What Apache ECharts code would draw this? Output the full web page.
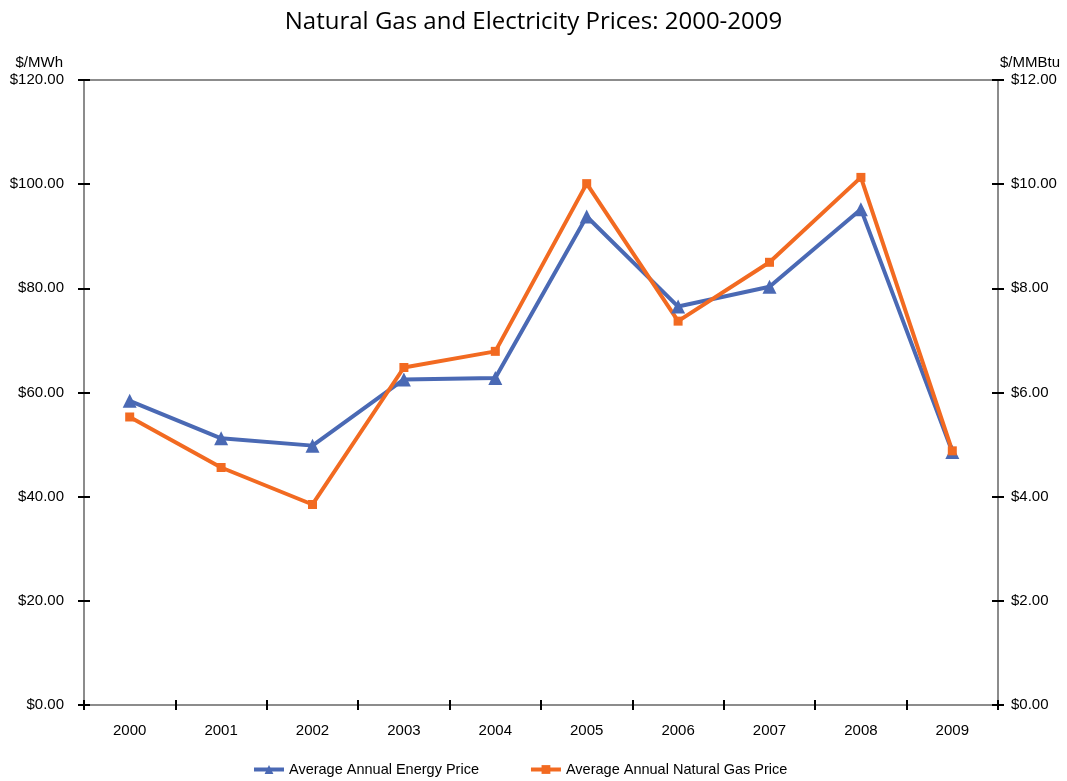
<!DOCTYPE html>
<html>
<head>
<meta charset="utf-8">
<script src="https://cdn.jsdelivr.net/npm/echarts@6/dist/echarts.min.js"></script>
<style>
  html, body { margin: 0; padding: 0; background: #fff; }
  #chart { width: 1067px; height: 781px; }
</style>
</head>
<body>
<div id="chart"></div>
<script>
// years on the category axis
const years = ['2000', '2001', '2002', '2003', '2004', '2005', '2006', '2007', '2008', '2009'];
// electricity, $/MWh (left axis)
const energyPrice = [58.4, 51.2, 49.8, 62.5, 62.8, 93.8, 76.5, 80.3, 95.2, 48.6];
// natural gas, $/MMBtu (right axis)
const gasPrice = [5.53, 4.56, 3.85, 6.48, 6.79, 10.01, 7.37, 8.50, 10.13, 4.88];

const chart = echarts.init(document.getElementById('chart'));

const labelFont = { color: '#000', fontFamily: 'Liberation Sans, Arial, sans-serif', fontSize: 15 };
const axisGray = '#8c8c8c';
const blue = '#4a69b4';
const orange = '#f26a21';

chart.setOption({
    animation: false,
    title: {
        text: 'Natural Gas and Electricity Prices: 2000-2009',
        left: 'center',
        top: 5,
        textStyle: { fontFamily: 'Open Sans, Noto Sans, sans-serif', fontWeight: 'normal', fontSize: 24, color: '#000' }
    },
    legend: {
        top: 762,
        left: 252,
        padding: 0,
        itemGap: 50,
        itemWidth: 30,
        itemHeight: 11,
        textStyle: { ...labelFont, fontSize: 14.5 },
        data: [
            { name: 'Average Annual Energy Price', lineStyle: { width: 4 } },
            { name: 'Average Annual Natural Gas Price', lineStyle: { width: 4 } }
        ]
    },
    grid: {
        left: 84, right: 69, top: 80, bottom: 76,
        show: true, borderColor: axisGray, borderWidth: 2
    },
    xAxis: [{
        type: 'category',
        data: years,
        boundaryGap: true,
        axisLine: { lineStyle: { color: axisGray, width: 2 } },
        axisTick: { show: true, length: 5, lineStyle: { color: '#000', width: 2 } },
        axisLabel: { ...labelFont, margin: 18 }
    }, {
        // inner half of the crossing ticks
        type: 'category',
        data: years,
        position: 'bottom',
        axisLine: { show: false },
        axisTick: { show: true, inside: true, length: 5, lineStyle: { color: '#000', width: 2 } },
        axisLabel: { show: false }
    }],
    yAxis: [{
        type: 'value',
        min: 0, max: 120, interval: 20,
        position: 'left',
        name: '$/MWh',
        nameLocation: 'end',
        nameGap: 10,
        nameTextStyle: { ...labelFont, align: 'right', padding: [0, 21, 0, 0] },
        splitLine: { show: false },
        axisLine: { show: true, lineStyle: { color: axisGray, width: 2 } },
        axisTick: { show: true, length: 6, lineStyle: { color: '#000', width: 2 } },
        axisLabel: { ...labelFont, margin: 20, padding: [4, 0, 0, 0], formatter: v => '$' + v.toFixed(2) }
    }, {
        type: 'value',
        min: 0, max: 12, interval: 2,
        position: 'right',
        name: '$/MMBtu',
        nameLocation: 'end',
        nameGap: 10,
        nameTextStyle: { ...labelFont, align: 'left', padding: [0, 0, 0, 2] },
        splitLine: { show: false },
        axisLine: { show: true, lineStyle: { color: axisGray, width: 2 } },
        axisTick: { show: true, length: 6, lineStyle: { color: '#000', width: 2 } },
        axisLabel: { ...labelFont, margin: 13, padding: [4, 0, 0, 0], formatter: v => '$' + v.toFixed(2) }
    }, {
        type: 'value',
        min: 0, max: 120, interval: 20,
        position: 'left',
        splitLine: { show: false },
        axisLine: { show: false },
        axisTick: { show: true, inside: true, length: 6, lineStyle: { color: '#000', width: 2 } },
        axisLabel: { show: false }
    }, {
        type: 'value',
        min: 0, max: 12, interval: 2,
        position: 'right',
        splitLine: { show: false },
        axisLine: { show: false },
        axisTick: { show: true, inside: true, length: 6, lineStyle: { color: '#000', width: 2 } },
        axisLabel: { show: false }
    }],
    series: [{
        name: 'Average Annual Energy Price',
        type: 'line',
        yAxisIndex: 0,
        data: energyPrice,
        symbol: 'triangle',
        symbolSize: 14,
        lineStyle: { color: blue, width: 4 },
        itemStyle: { color: blue }
    }, {
        name: 'Average Annual Natural Gas Price',
        type: 'line',
        yAxisIndex: 1,
        data: gasPrice,
        symbol: 'rect',
        symbolSize: 9,
        lineStyle: { color: orange, width: 4 },
        itemStyle: { color: orange }
    }]
});
</script>
</body>
</html>
